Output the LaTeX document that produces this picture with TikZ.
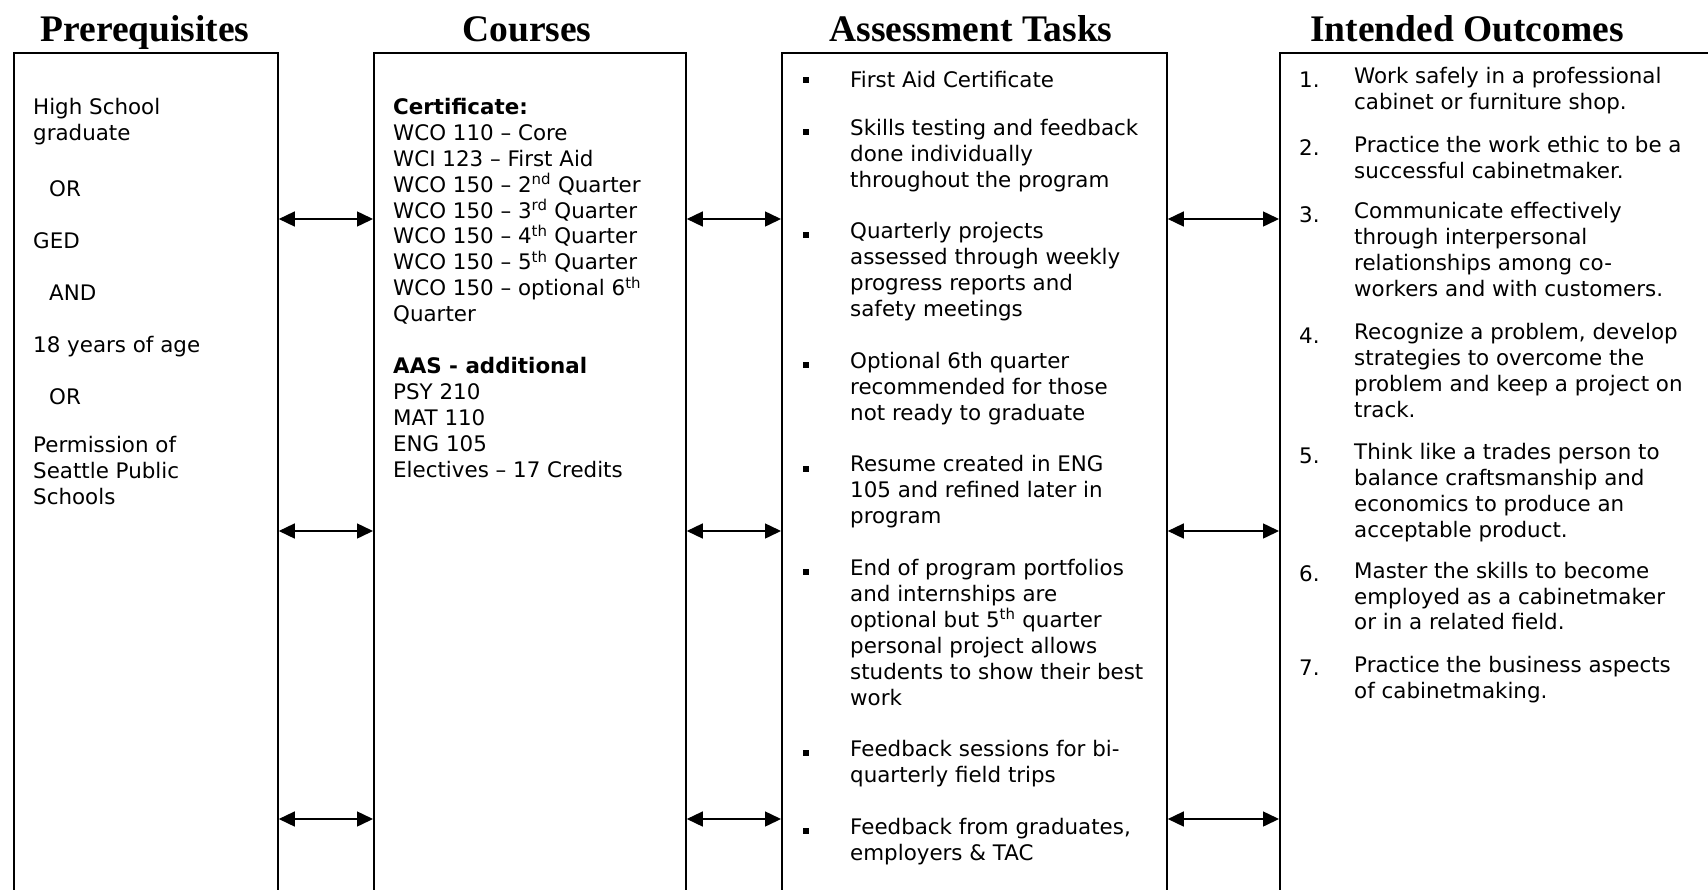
\documentclass[tikz,border=0pt]{standalone}
\usepackage{fontspec}
\usetikzlibrary{arrows.meta}
\setmainfont{DejaVu Sans}
\newfontfamily\headfont{Liberation Serif}
\newcommand\firststrut{\rule{0pt}{20pt}}
\tikzset{
  box/.style={draw, line width=1.8pt, rectangle, inner sep=0pt, anchor=north west},
  head/.style={font=\headfont\bfseries\fontsize{37.5}{44}\selectfont, anchor=base, inner sep=0pt},
  txt/.style={font=\fontsize{21.4}{25.9}\selectfont, align=left, anchor=north west, yshift=16pt, inner sep=0pt, execute at begin node=\firststrut},
  link/.style={{Triangle[length=16pt,width=15pt]}-{Triangle[length=16pt,width=15pt]}, line width=1.5pt},
  sqbullet/.style={fill, rectangle, minimum size=6pt, inner sep=0pt},
}
\begin{document}
\begin{tikzpicture}[x=1pt,y=-1pt]
\useasboundingbox (0,0) rectangle (1708,889);
\clip (0,0) rectangle (1708,889);
\fill[white] (0,0) rectangle (1708,889);

% headings
\node[head] (h1) at (145,41) {Prerequisites};
\node[head] (h2) at (527,41) {Courses};
\node[head] (h3) at (971,41) {Assessment Tasks};
\node[head] (h4) at (1467,41) {Intended Outcomes};

% boxes
\node[box, minimum width=264pt, minimum height=880pt] (b1) at (13,52) {};
\node[box, minimum width=312pt, minimum height=880pt] (b2) at (373,52) {};
\node[box, minimum width=385pt, minimum height=880pt] (b3) at (781,52) {};
\node[box, minimum width=460pt, minimum height=880pt] (b4) at (1279,52) {};

% connectors
\foreach \yy in {219,531,819}{
  \draw[link] (b1.east |- 0,\yy) -- (b2.west |- 0,\yy);
  \draw[link] (b2.east |- 0,\yy) -- (b3.west |- 0,\yy);
  \draw[link] (b3.east |- 0,\yy) -- (b4.west |- 0,\yy);
}

% prerequisites
\node[txt] (p1) at (33,114) {High School\\graduate};
\node[txt] (p2) at (49,192) {OR};
\node[txt] (p3) at (33,244) {GED};
\node[txt] (p4) at (49,296) {AND};
\node[txt] (p5) at (33,348) {18 years of age};
\node[txt] (p6) at (49,400) {OR};
\node[txt] (p7) at (33,452) {Permission of\\Seattle Public\\Schools};

% courses
\node[txt] (c1) at (393,114) {\textbf{Certificate:}\\
WCO 110 – Core\\
WCI 123 – First Aid\\
WCO 150 – 2\textsuperscript{nd} Quarter\\
WCO 150 – 3\textsuperscript{rd} Quarter\\
WCO 150 – 4\textsuperscript{th} Quarter\\
WCO 150 – 5\textsuperscript{th} Quarter\\
WCO 150 – optional 6\textsuperscript{th}\\
Quarter};
\node[txt] (c2) at (393,373) {\textbf{AAS - additional}\\
PSY 210\\
MAT 110\\
ENG 105\\
Electives – 17 Credits};

% assessment tasks
\foreach \yy [count=\i] in {83,134.8,238.4,367.9,471.5,575.1,756.4,834.1}{
  \node[sqbullet] (q\i) at (806,\yy-3) {};
}
\node[txt] (a1) at (850,83) {First Aid Certificate};
\node[txt] (a2) at (850,134.8) {Skills testing and feedback\\done individually\\throughout the program};
\node[txt] (a3) at (850,238.4) {Quarterly projects\\assessed through weekly\\progress reports and\\safety meetings};
\node[txt] (a4) at (850,367.9) {Optional 6th quarter\\recommended for those\\not ready to graduate};
\node[txt] (a5) at (850,471.5) {Resume created in ENG\\105 and refined later in\\program};
\node[txt] (a6) at (850,575.1) {End of program portfolios\\and internships are\\optional but 5\textsuperscript{th} quarter\\personal project allows\\students to show their best\\work};
\node[txt] (a7) at (850,756.4) {Feedback sessions for bi-\\quarterly field trips};
\node[txt] (a8) at (850,834.1) {Feedback from graduates,\\employers \& TAC};

% outcomes
\foreach \yy [count=\i] in {83.3,151.7,218.3,339.3,459,577.7,671.7}{
  \node[txt] (n\i) at (1299,\yy) {\i.};
}
\node[txt] (o1) at (1354,83.3) {Work safely in a professional\\cabinet or furniture shop.};
\node[txt] (o2) at (1354,151.7) {Practice the work ethic to be a\\successful cabinetmaker.};
\node[txt] (o3) at (1354,218.3) {Communicate effectively\\through interpersonal\\relationships among co-\\workers and with customers.};
\node[txt] (o4) at (1354,339.3) {Recognize a problem, develop\\strategies to overcome the\\problem and keep a project on\\track.};
\node[txt] (o5) at (1354,459) {Think like a trades person to\\balance craftsmanship and\\economics to produce an\\acceptable product.};
\node[txt] (o6) at (1354,577.7) {Master the skills to become\\employed as a cabinetmaker\\or in a related field.};
\node[txt] (o7) at (1354,671.7) {Practice the business aspects\\of cabinetmaking.};
\end{tikzpicture}
\end{document}
